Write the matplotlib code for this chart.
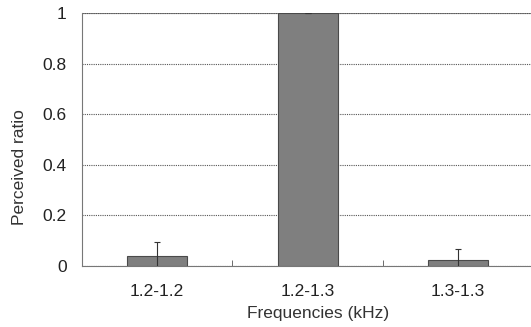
import numpy as np
import matplotlib.pyplot as plt

plt.rcParams['font.family'] = ['Liberation Sans', 'DejaVu Sans']

# data
categories = ['1.2-1.2', '1.2-1.3', '1.3-1.3']
ratio = [0.04, 1.0, 0.024]
err = [0.055, 0.0, 0.043]

fig = plt.figure(figsize=(5.31, 3.27), dpi=100)
ax = fig.add_axes([0.1544, 0.1865, 0.85, 0.7735])

x = np.arange(len(categories))
ax.bar(x, ratio, width=0.4, color='#7f7f7f', edgecolor='#4a4a4a', linewidth=0.8,
       yerr=err, error_kw=dict(ecolor='#333333', elinewidth=0.8, capsize=2, capthick=0.8),
       zorder=3)

ax.set_xlim(-0.5, 2.5)
ax.set_ylim(0, 1)
ax.set_yticks([0, 0.2, 0.4, 0.6, 0.8, 1.0])
ax.set_yticklabels(['0', '0.2', '0.4', '0.6', '0.8', '1'])
ax.set_xticks(x)
ax.set_xticklabels(categories)
ax.set_xticks([0.5, 1.5], minor=True)

ax.yaxis.grid(True, linestyle=(0, (1, 1)), color='#555555', linewidth=0.8, zorder=0)
ax.tick_params(axis='y', length=0, pad=11, labelsize=12.5, colors='#222222')
ax.tick_params(axis='x', which='major', length=0, pad=13, labelsize=12.5, colors='#222222')
ax.tick_params(axis='x', which='minor', direction='in', length=4, color='#555555')

for s in ['top', 'right']:
    ax.spines[s].set_visible(False)
ax.spines['left'].set_color('#777777')
ax.spines['bottom'].set_color('#777777')
# top border line
ax.axhline(1.0, color='#888888', linewidth=0.8, zorder=1)

ax.set_ylabel('Perceived ratio', fontsize=12.5, color='#333333')
ax.set_xlabel('Frequencies (kHz)', fontsize=12.5, color='#333333', labelpad=5)
ax.yaxis.set_label_coords(-0.121, 0.39)
ax.xaxis.label.set_x(0.523)

plt.savefig('out.png', dpi=100)
